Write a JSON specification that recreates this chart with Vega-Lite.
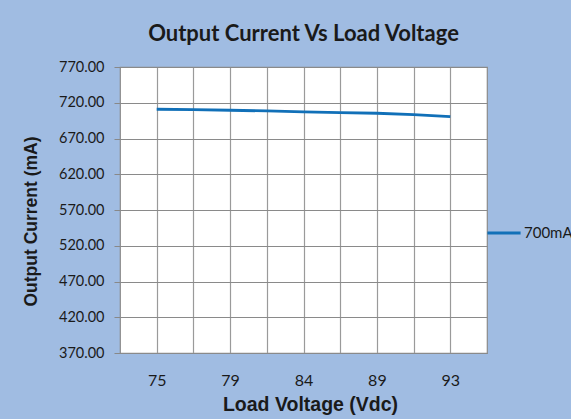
{
  "$schema": "https://vega.github.io/schema/vega-lite/v6.json",
  "width": 367,
  "height": 286,
  "autosize": {"type": "none"},
  "padding": {"left": 120, "top": 67, "right": 84, "bottom": 66},
  "background": "#a0bce2",
  "title": {
    "text": "Output Current Vs Load Voltage",
    "font": "Lato",
    "fontSize": 22,
    "fontWeight": "bold",
    "color": "#1a1a1a",
    "anchor": "middle",
    "offset": 13
  },
  "data": {
    "values": [
      {"voltage": "75", "current": 710.9, "series": "700mA"},
      {"voltage": "77", "current": 710.5, "series": "700mA"},
      {"voltage": "79", "current": 709.5, "series": "700mA"},
      {"voltage": "82", "current": 708.5, "series": "700mA"},
      {"voltage": "84", "current": 707.1, "series": "700mA"},
      {"voltage": "86", "current": 706.3, "series": "700mA"},
      {"voltage": "89", "current": 705.3, "series": "700mA"},
      {"voltage": "91", "current": 703.5, "series": "700mA"},
      {"voltage": "93", "current": 700.7, "series": "700mA"}
    ]
  },
  "mark": {"type": "line", "strokeWidth": 2.8},
  "encoding": {
    "x": {
      "field": "voltage",
      "type": "ordinal",
      "scale": {"type": "point", "padding": 1},
      "sort": null,
      "axis": {
        "title": "Load Voltage (Vdc)",
        "titleFont": "Liberation Sans",
        "titleFontSize": 19.5,
        "titleFontWeight": "bold",
        "titleColor": "#1a1a1a",
        "titlePadding": 7,
        "titleX": 190,
        "labelExpr": "indexof(['75','79','84','89','93'], datum.value) >= 0 ? datum.value : ''",
        "labelFont": "Lato",
        "labelFontSize": 16,
        "labelColor": "#1a1a1a",
        "labelAngle": 0,
        "labelPadding": 19,
        "ticks": false,
        "domain": false,
        "grid": true,
        "gridColor": "#9a9a9a",
        "gridWidth": 1.2
      }
    },
    "y": {
      "field": "current",
      "type": "quantitative",
      "scale": {"domain": [370, 770], "nice": false, "zero": false},
      "axis": {
        "title": "Output Current (mA)",
        "titleFont": "Liberation Sans",
        "titleFontSize": 17.5,
        "titleFontWeight": "bold",
        "titleColor": "#1a1a1a",
        "titlePadding": 18,
        "titleY": 154,
        "values": [370, 420, 470, 520, 570, 620, 670, 720, 770],
        "format": ".2f",
        "labelFont": "Lato",
        "labelFontSize": 14.5,
        "labelColor": "#1a1a1a",
        "labelPadding": 10,
        "tickSize": 6,
        "tickColor": "#888888",
        "domain": false,
        "grid": true,
        "gridColor": "#8a8a8a",
        "gridWidth": 1.2
      }
    },
    "color": {
      "field": "series",
      "type": "nominal",
      "scale": {"range": ["#1170b8"]},
      "legend": {
        "title": null,
        "orient": "none",
        "legendX": 366,
        "legendY": 148,
        "padding": 0,
        "symbolType": "stroke",
        "symbolSize": 1100,
        "symbolStrokeWidth": 2.8,
        "labelFont": "Lato",
        "labelFontSize": 15,
        "labelColor": "#1a1a1a",
        "labelOffset": 2
      }
    }
  },
  "config": {
    "view": {"fill": "white", "stroke": "#8a8a8a", "strokeWidth": 1.2}
  }
}
